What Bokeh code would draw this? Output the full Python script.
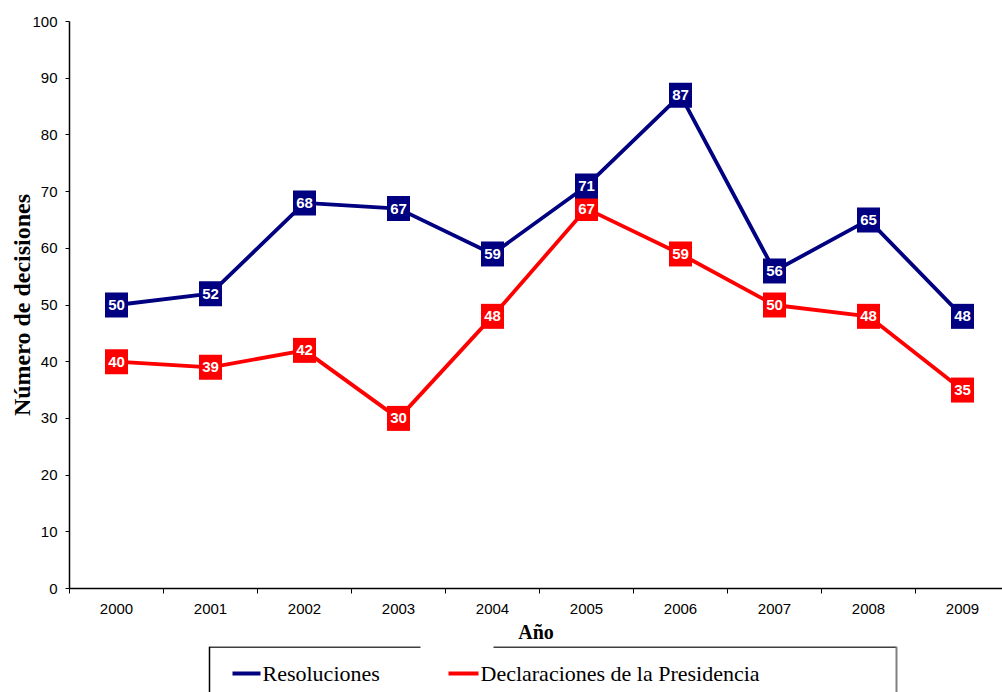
from bokeh.plotting import figure
from bokeh.models import ColumnDataSource, Range1d, FixedTicker
from bokeh.layouts import column
from bokeh.embed import file_html
from bokeh.resources import INLINE
from bokeh.core.properties import value

years = ["2000", "2001", "2002", "2003", "2004", "2005", "2006", "2007", "2008", "2009"]
resoluciones = [50, 52, 68, 67, 59, 71, 87, 56, 65, 48]
declaraciones = [40, 39, 42, 30, 48, 67, 59, 50, 48, 35]
y_ticks = [0, 10, 20, 30, 40, 50, 60, 70, 80, 90, 100]
series_names = ["Resoluciones", "Declaraciones de la Presidencia"]

NAVY = "#000080"
RED = "#FF0000"

xs = list(range(len(years)))

p = figure(width=1002, height=646, output_backend="svg", toolbar_location=None,
           x_range=Range1d(-0.5, -0.5 + 933 / 94.0), y_range=Range1d(0, 100),
           min_border_left=69, min_border_right=0, min_border_top=21, min_border_bottom=58)
p.outline_line_color = None
p.xgrid.visible = False
p.ygrid.visible = False
p.background_fill_color = "white"

# axes
p.xaxis.ticker = FixedTicker(ticks=xs, minor_ticks=[i - 0.5 for i in range(len(years) + 1)])
p.xaxis.major_label_overrides = {i: years[i] for i in xs}
p.xaxis.major_tick_out = 0
p.xaxis.major_tick_in = 0
p.xaxis.minor_tick_out = 5
p.xaxis.minor_tick_in = 0
p.xaxis.major_label_standoff = 10
p.xaxis.major_label_text_font = "Liberation Sans"
p.xaxis.major_label_text_font_size = "15px"
p.xaxis.major_label_text_color = "black"
p.xaxis.axis_line_color = "black"
p.xaxis.axis_line_width = 1.5
p.xaxis.minor_tick_line_color = "black"
p.xaxis.axis_label = "Año"
p.xaxis.axis_label_text_font = "Liberation Serif"
p.xaxis.axis_label_text_font_style = "bold"
p.xaxis.axis_label_text_font_size = "20px"
p.xaxis.axis_label_standoff = 4
p.xaxis.axis_label_text_color = "black"

p.yaxis.ticker = FixedTicker(ticks=y_ticks)
p.yaxis.minor_tick_line_color = None
p.yaxis.major_tick_out = 4
p.yaxis.major_tick_in = 0
p.yaxis.major_label_standoff = 8
p.yaxis.major_label_text_font = "Liberation Sans"
p.yaxis.major_label_text_font_size = "15px"
p.yaxis.major_label_text_color = "black"
p.yaxis.axis_line_color = "black"
p.yaxis.axis_line_width = 1.5
p.yaxis.major_tick_line_color = "black"
p.yaxis.axis_label = "Número de decisiones"
p.yaxis.axis_label_text_font = "Liberation Serif"
p.yaxis.axis_label_text_font_style = "bold"
p.yaxis.axis_label_text_font_size = "24px"
p.yaxis.axis_label_standoff = -6
p.yaxis.axis_label_text_color = "black"

src_r = ColumnDataSource(dict(x=xs, y=resoluciones, t=[str(v) for v in resoluciones]))
src_d = ColumnDataSource(dict(x=xs, y=declaraciones, t=[str(v) for v in declaraciones]))

for src, col in ((src_d, RED), (src_r, NAVY)):
    p.line("x", "y", source=src, line_color=col, line_width=3.8)
    p.rect("x", "y", width=23, height=25, width_units="screen", height_units="screen",
           source=src, fill_color=col, line_color=None)
    p.text("x", "y", text="t", source=src, text_color="white",
           text_font=value("Liberation Sans"), text_font_style="bold",
           text_font_size="15px", text_align="center", text_baseline="middle")

# legend panel (its frame is aligned with the main frame: screen x 69..1002)
leg = figure(width=1002, height=46, output_backend="svg", toolbar_location=None,
             x_range=Range1d(69, 1002), y_range=Range1d(46, 0),
             min_border=0)
leg.axis.visible = False
leg.grid.visible = False
leg.outline_line_color = None

leg.segment(x0=[209, 493], y0=[0.5, 0.5], x1=[420, 896], y1=[0.5, 0.5], line_color="black", line_width=1.5)
leg.segment(x0=[209], y0=[0], x1=[209], y1=[46], line_color="black", line_width=1.5)
leg.segment(x0=[896], y0=[0], x1=[896], y1=[46], line_color="#808080", line_width=2)

leg.segment(x0=[232, 448], y0=[27, 27], x1=[260, 478], y1=[27, 27],
            line_color=[NAVY, RED], line_width=4)
leg.text(x=[262, 480], y=[27, 27], text=series_names, text_color="black",
         text_font=value("Liberation Serif"), text_font_size="22px",
         text_align="left", text_baseline="middle")

layout = column(p, leg, spacing=0)
open("out.html", "w").write(file_html(layout, INLINE))
